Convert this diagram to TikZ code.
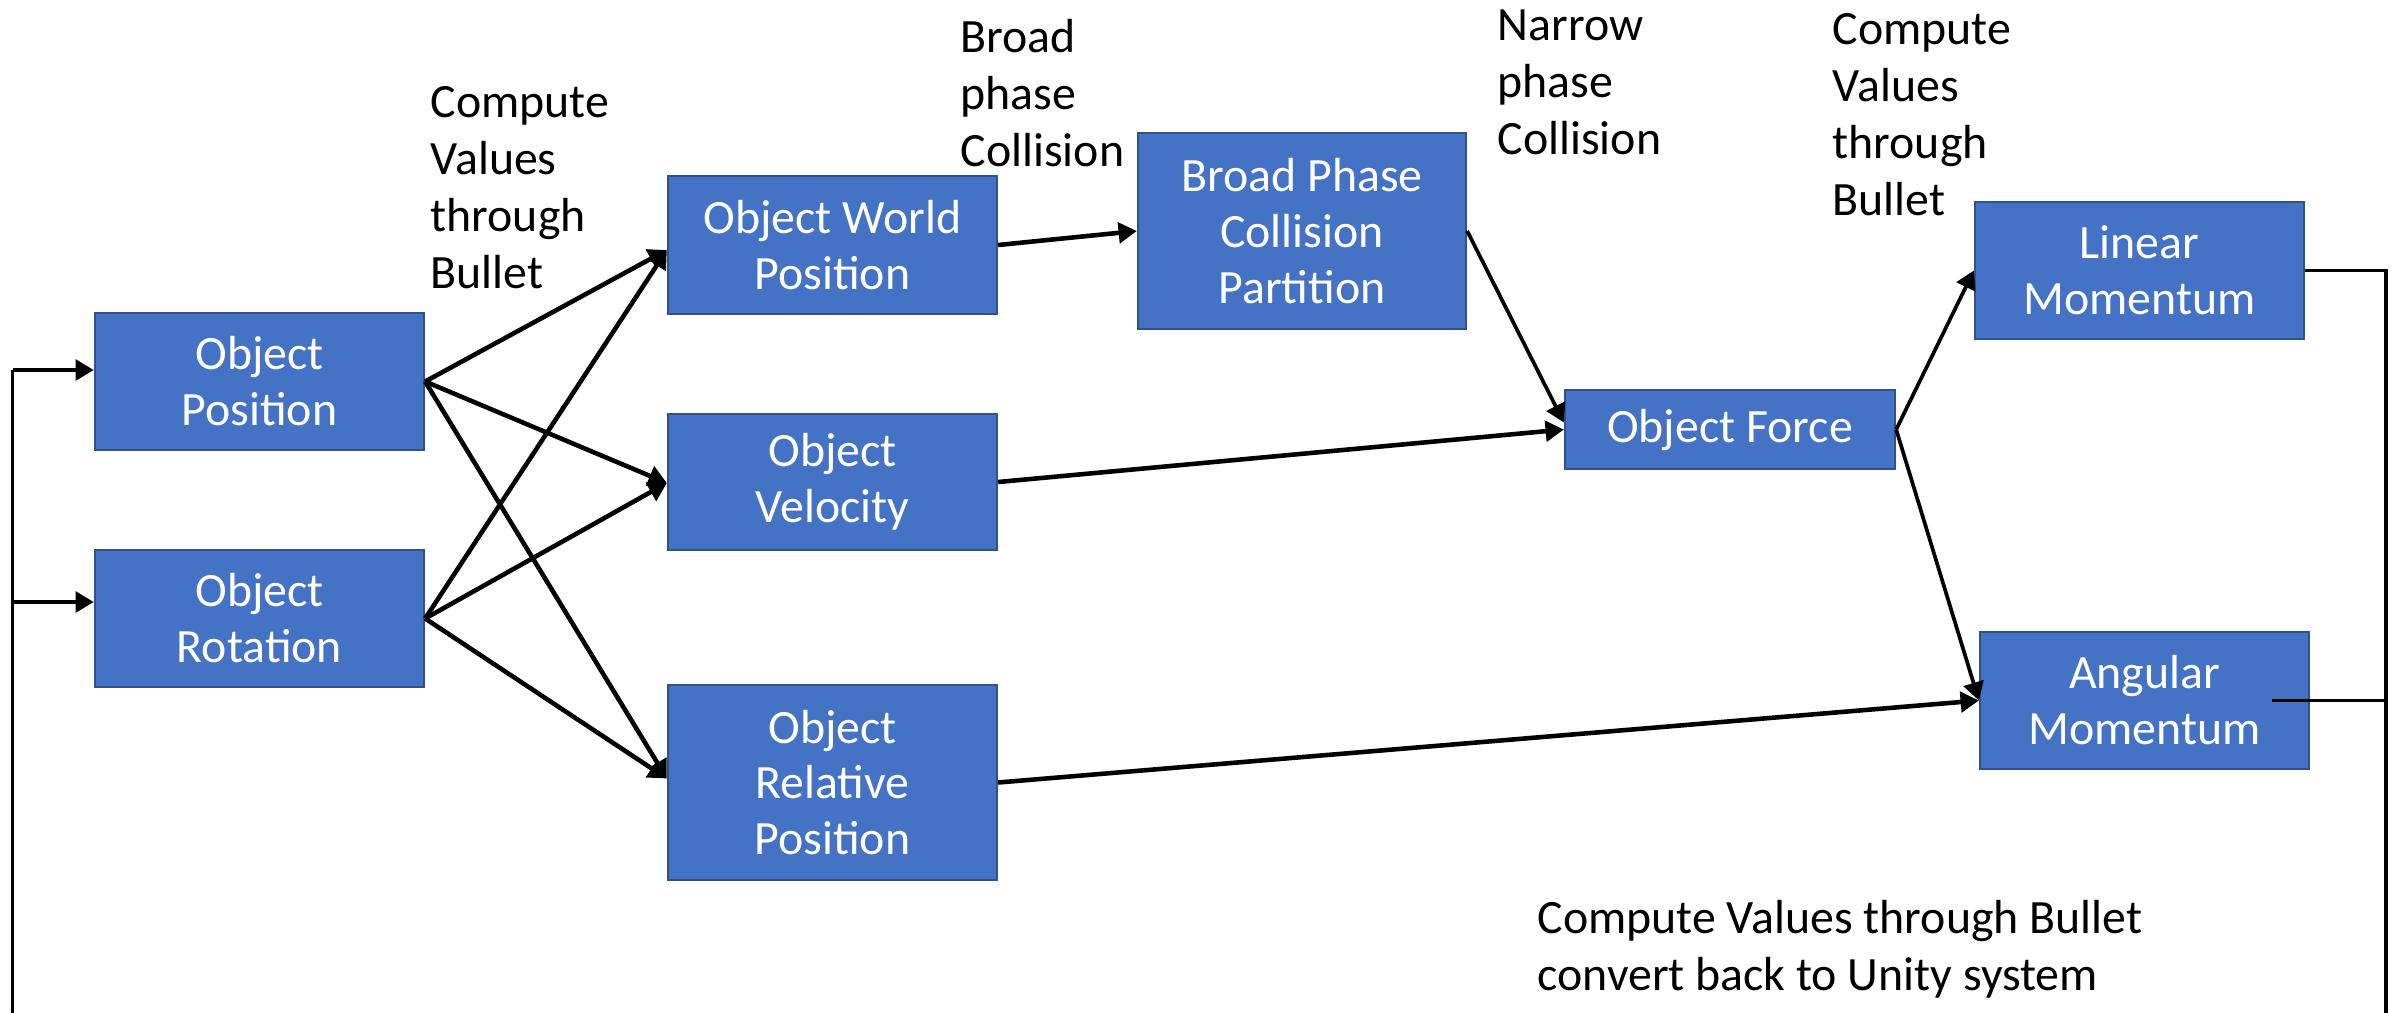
\documentclass[tikz,border=0pt]{standalone}
\usepackage{fontspec}
\setmainfont{Carlito}
\usetikzlibrary{arrows.meta,calc}
\definecolor{boxfill}{HTML}{4472C4}
\definecolor{boxline}{HTML}{2F528F}
\begin{document}
\begin{tikzpicture}[
  x=0.01cm, y=-0.01cm,
  boxnode/.style={draw=boxline, line width=0.6pt, fill=boxfill, text=white,
    align=center, minimum width=3.29cm, minimum height=1.37cm, inner sep=0pt,
    font=\fontsize{13.6}{15.9}\selectfont},
  lbl/.style={align=left, inner sep=0pt, anchor=base west,
    font=\fontsize{13.6}{16.2}\selectfont},
  arr/.style={-{Triangle[length=5.2pt,width=5.8pt]}, line width=1.3pt},
  arrthin/.style={-{Triangle[length=5.2pt,width=5.8pt]}, line width=1.05pt},
  vline/.style={line width=0.95pt}
]
\useasboundingbox (0,0) rectangle (2403,1012);

% process boxes
\node[boxnode] (pos) at (259.5,381.5) {Object\\Position};
\node[boxnode] (rot) at (259.5,618.5) {Object\\Rotation};
\node[boxnode, minimum height=1.38cm] (owp) at (832.5,245) {Object World\\Position};
\node[boxnode, minimum height=1.36cm] (vel) at (832.5,482) {Object\\Velocity};
\node[boxnode, minimum height=1.95cm] (rel) at (832.5,782.5) {Object\\Relative\\Position};
\node[boxnode, minimum width=3.28cm, minimum height=1.96cm] (bpc) at (1302,231) {Broad Phase\\Collision\\Partition};
\node[boxnode, minimum width=3.30cm, minimum height=0.79cm] (frc) at (1730,429.5) {Object Force};
\node[boxnode] (lin) at (2139.5,270.5) {Linear\\Momentum};
\node[boxnode] (ang) at (2144.5,700.5) {Angular\\Momentum};

% free-standing labels (anchored at the baseline of their last line)
\node[lbl] (lblA) at (430,288) {Compute\\Values\\through\\Bullet};
\node[lbl] (lblB) at (960,166) {Broad\\phase\\Collision};
\node[lbl] (lblC) at (1497,154) {Narrow\\phase\\Collision};
\node[lbl] (lblD) at (1832,215) {Compute\\Values\\through\\Bullet};
\node[lbl] (lblE) at (1537,990) {Compute Values through Bullet\\convert back to Unity system};

% feedback inputs on the left
\coordinate (pin) at ($(pos.west)+(0,-11.5)$);
\coordinate (rin) at ($(rot.west)+(0,-16.5)$);
\coordinate (lbot) at (12.5,1020);
\draw[vline] (lbot) -- (lbot |- pin);
\draw[arr] (lbot |- pin) -- (pin);
\draw[arr] (lbot |- rin) -- (rin);

% fan-out from position and rotation
\coordinate (owpin) at ($(owp.west)+(0,5)$);
\coordinate (velin) at ($(vel.west)+(0,1)$);
\coordinate (relin) at ($(rel.west)+(0,-4)$);
\foreach \s in {pos,rot}{
  \draw[arr] (\s.east) -- (owpin);
  \draw[arr] (\s.east) -- (velin);
  \draw[arr] (\s.east) -- (relin);
}

% collision and force chain
\draw[arr] (owp.east) -- (bpc.west);
\draw[arrthin] (bpc.east) -- ($(frc.west)+(0,-7)$);
\draw[arr] (vel.east) -- (frc.west);
\draw[arrthin] (frc.east) -- (lin.west);
\draw[arrthin] (frc.east) -- (ang.west);
\draw[arr] (rel.east) -- (ang.west);

% feedback outputs on the right
\coordinate (rbot) at (2386,1020);
\coordinate (aout) at ($(ang.east)+(-38,0)$);
\draw[vline] (lin.east) -- (lin.east -| rbot) -- (rbot);
\draw[vline] (aout) -- (aout -| rbot);
\end{tikzpicture}
\end{document}
